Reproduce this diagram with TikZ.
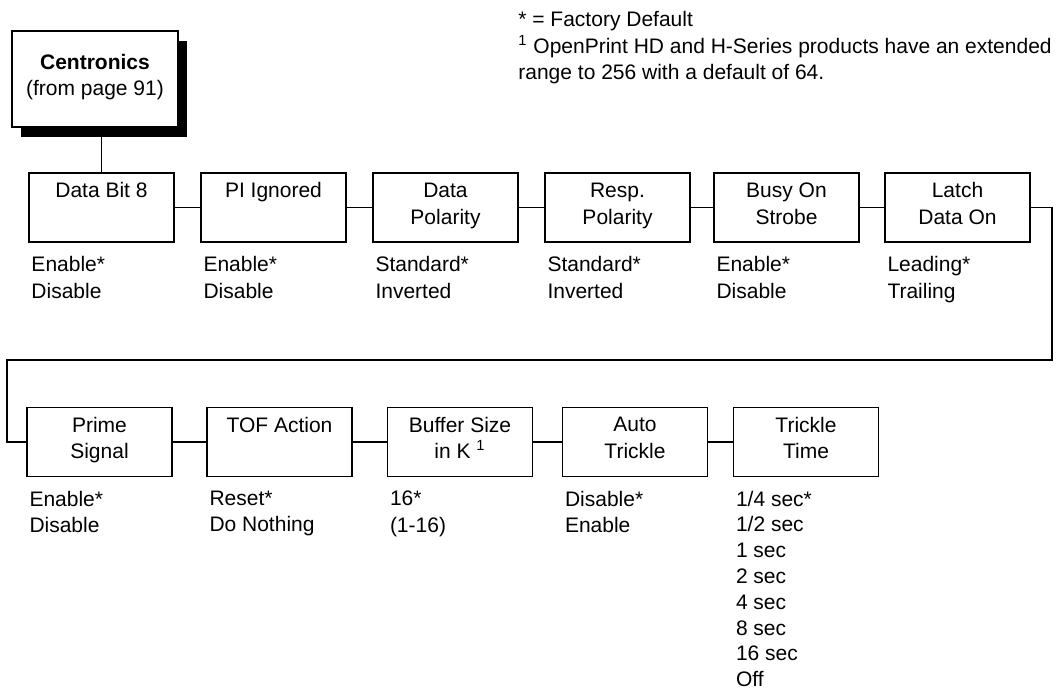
\documentclass[tikz,border=0pt]{standalone}
\usepackage{fontspec}
\setmainfont{Liberation Sans}
\usetikzlibrary{positioning,shadows}

\newcommand{\menufont}{\fontsize{10.5}{13.3}\selectfont}

\tikzset{
  menubox/.style={draw, line width=0.9pt, fill=white, minimum width=72.5pt,
    minimum height=34.5pt, inner sep=0pt, align=center, font=\menufont,
    execute at end node=\strut},
  optlist/.style={inner sep=0pt, align=left, font=\menufont},
  link/.style={line width=0.9pt},
}

\begin{document}
\begin{tikzpicture}[x=0.5pt, y=-0.5pt]
  \useasboundingbox (0,0) rectangle (1056,693);

  % notes
  \node[optlist, anchor=north west] (notes) at (518,11)
    {* = Factory Default\\
     \textsuperscript{1} OpenPrint HD and H-Series products have an extended\\
     range to 256 with a default of 64.};

  % top of the menu
  \node[menubox, minimum width=83pt, minimum height=48pt,
    drop shadow={shadow xshift=4.5pt, shadow yshift=-5pt, opacity=1, fill=black}]
    (centronics) at (95,79) {\textbf{Centronics}\\(from page 91)};

  % first row
  \node[menubox] (databit)  at (101.5,207.5) {Data Bit 8\\~};
  \node[menubox] (piignore) at (273.5,207.5) {PI Ignored\\~};
  \node[menubox] (datapol)  at (445.5,207.5) {Data\\Polarity};
  \node[menubox] (resppol)  at (617.5,207.5) {Resp.\\Polarity};
  \node[menubox] (busy)     at (786.5,207.5) {Busy On\\Strobe};
  \node[menubox] (latch)    at (957.5,207.5) {Latch\\Data On};

  \node[optlist, below right=6.5pt and 1.5pt of databit.south west]  (databitopt)  {Enable*\\Disable};
  \node[optlist, below right=6.5pt and 1.5pt of piignore.south west] (piignoreopt) {Enable*\\Disable};
  \node[optlist, below right=6.5pt and 1.5pt of datapol.south west]  (datapolopt)  {Standard*\\Inverted};
  \node[optlist, below right=6.5pt and 1.5pt of resppol.south west]  (resppolopt)  {Standard*\\Inverted};
  \node[optlist, below right=6.5pt and 1.5pt of busy.south west]     (busyopt)     {Enable*\\Disable};
  \node[optlist, below right=6.5pt and 1.5pt of latch.south west]    (latchopt)    {Leading*\\Trailing};

  % second row
  \node[menubox] (prime)   at (99.5,442) {Prime\\Signal};
  \node[menubox] (tof)     at (279.5,442) {TOF Action\\~};
  \node[menubox] (buffer)  at (460,442)   {Buffer Size\\in K \textsuperscript{1}};
  \node[menubox] (auto)    at (635,442)   {Auto\\Trickle};
  \node[menubox] (trickle) at (806,442)   {Trickle\\Time};

  \node[optlist, below right=6.5pt and 1.5pt of prime.south west]   (primeopt)   {Enable*\\Disable};
  \node[optlist, below right=6.5pt and 1.5pt of tof.south west]     (tofopt)     {Reset*\\Do Nothing};
  \node[optlist, below right=6.5pt and 1.5pt of buffer.south west]  (bufferopt)  {16*\\(1-16)};
  \node[optlist, below right=6.5pt and 1.5pt of auto.south west]    (autoopt)    {Disable*\\Enable};
  \node[optlist, below right=6.5pt and 1.5pt of trickle.south west,
    font=\fontsize{10.5}{12.9}\selectfont] (trickleopt)
    {1/4 sec*\\1/2 sec\\1 sec\\2 sec\\4 sec\\8 sec\\16 sec\\Off};

  % connectors
  \draw[link] (databit.north) -- (databit.north |- centronics.south);
  \foreach \a/\b in {databit/piignore, piignore/datapol, datapol/resppol,
                     resppol/busy, busy/latch,
                     prime/tof, tof/buffer, buffer/auto, auto/trickle}
    \draw[link] (\a) -- (\b);

  \coordinate (turnR) at (1052,360);
  \coordinate (turnL) at (7,360);
  \draw[link] (latch.east) -| (turnR) -- (turnL) |- (prime.west);
\end{tikzpicture}
\end{document}
